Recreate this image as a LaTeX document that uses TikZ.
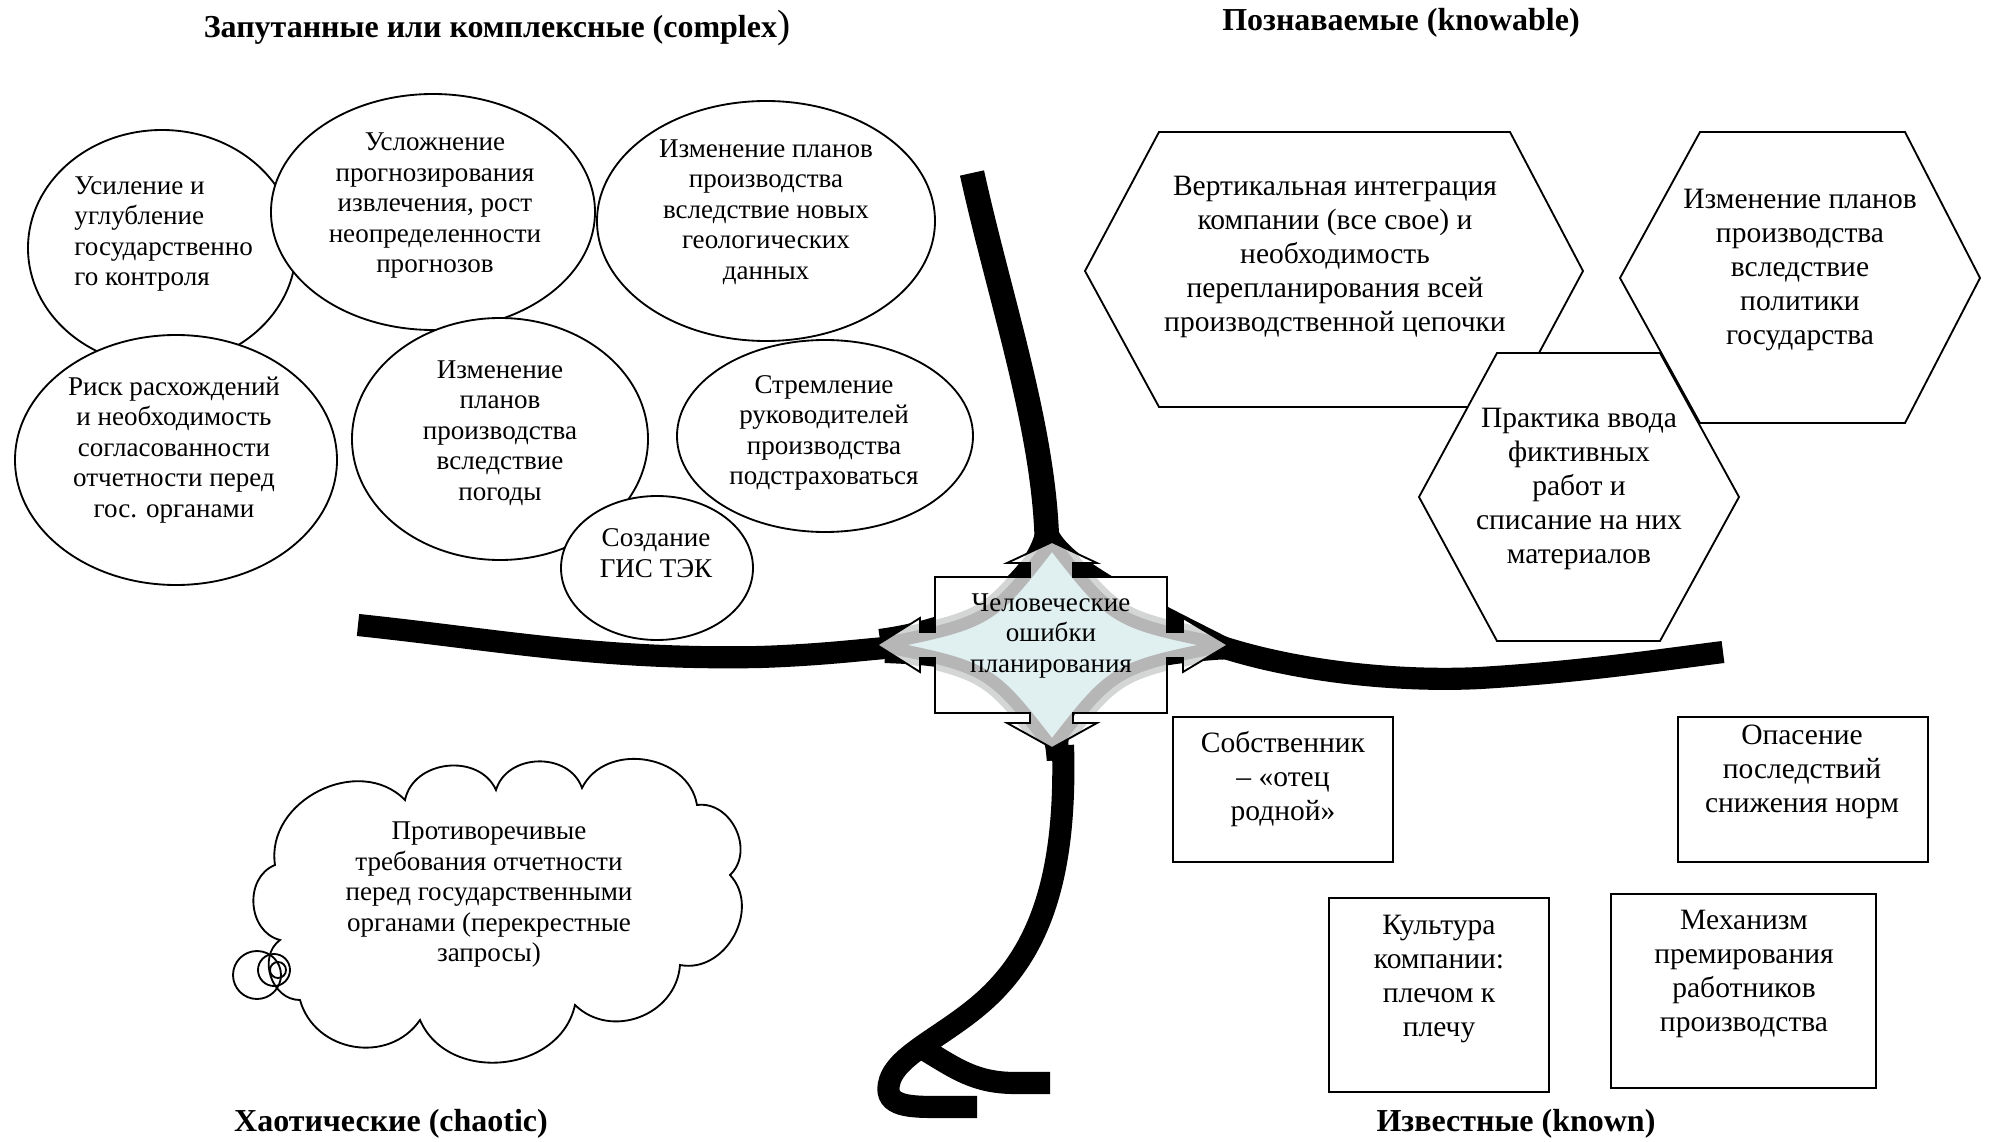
\documentclass[tikz,border=0pt]{standalone}
\usepackage{fontspec}
\setmainfont{Liberation Serif}
\usetikzlibrary{shapes.geometric}
\newcommand{\pxl}{0.4065pt}
\definecolor{starfill}{RGB}{224,239,240}
\definecolor{stargray}{RGB}{182,182,182}
\definecolor{starhalo}{RGB}{212,214,214}
% outline of the four-arrow callout in the middle
\newcommand{\calloutshape}{(935,577) -- (1030,577) -- (1030,563) -- (1007,563) -- (1052,542) -- (1097,563) -- (1073,563) -- (1073,577) -- (1167,577) -- (1167,632) -- (1183,632) -- (1183,618) -- (1228,645) -- (1183,672) -- (1183,658) -- (1167,658) -- (1167,713) -- (1073,713) -- (1073,723) -- (1097,723) -- (1052,748) -- (1007,723) -- (1030,723) -- (1030,713) -- (935,713) -- (935,658) -- (920,658) -- (920,672) -- (877,645) -- (920,618) -- (920,632) -- (935,632) -- cycle}
% concave four-pointed star inside the callout
\newcommand{\starshape}{(877,645) .. controls (990,622) .. (1052,542) .. controls (1114,622) .. (1228,645) .. controls (1114,668) .. (1052,748) .. controls (990,668) .. (877,645) -- cycle}
\begin{document}
\begin{tikzpicture}[x=0.4065pt, y=-0.4065pt,
  outl/.style={draw=black, line width=0.75pt, fill=white},
  oval/.style={outl, ellipse, inner sep=0pt},
  boxr/.style={outl, rectangle, inner sep=0pt},
  etxt/.style={align=center, font=\fontsize{11}{12.4}\selectfont, inner sep=0pt},
  htxt/.style={align=center, font=\fontsize{12}{13.8}\selectfont, inner sep=0pt},
  ttl/.style={font=\fontsize{13}{14.5}\selectfont\bfseries, inner sep=0pt},
  arm/.style={line width=9pt, black, line cap=butt},
]
\useasboundingbox (0,0) rectangle (1993,1142);

% ---- domain boundaries (thick curves) ----
\draw[arm] (358,625) .. controls (500,640) and (600,660) .. (760,657) .. controls (820,655) and (860,650) .. (885,648);
\draw[arm] (1222,647) .. controls (1300,672) and (1400,682) .. (1480,678) .. controls (1580,672) and (1660,660) .. (1723,652);
\draw[arm, line width=10pt] (972,173) .. controls (1000,300) and (1045,430) .. (1047,545);
\draw[arm] (1046,535) .. controls (1035,575) and (990,625) .. (880,640);
\draw[arm] (1048,535) .. controls (1065,570) and (1140,605) .. (1228,650);
\draw[arm] (885,652) .. controls (990,655) and (1052,680) .. (1058,760);
\draw[arm] (1228,648) .. controls (1110,655) and (1050,680) .. (1058,760);
\draw[arm] (1063,745) .. controls (1066,850) and (1050,930) .. (1000,985) .. controls (960,1030) and (900,1050) .. (890,1080) .. controls (882,1105) and (905,1107) .. (935,1107) -- (977,1107);
\draw[arm] (925,1050) .. controls (955,1068) and (975,1083) .. (1015,1083) -- (1050,1083);

% ---- central callout ----
\fill[white] \calloutshape;
\begin{scope}
  \clip \calloutshape;
  \draw[starhalo, line width=10pt] \starshape;
  \filldraw[fill=starfill, draw=stargray, line width=5pt] \starshape;
\end{scope}
\draw[line width=0.75pt] \calloutshape;
\node[etxt] (center) at (1051,636) {Человеческие\\ошибки\\планирования};

% ---- complex domain: ovals ----
\node[oval, minimum width=268*\pxl, minimum height=236*\pxl] (e1) at (162,248) {};
\node[oval, minimum width=324*\pxl, minimum height=236*\pxl] (e2) at (433,212) {};
\node[oval, minimum width=338*\pxl, minimum height=240*\pxl] (e3) at (766,221) {};
\node[oval, minimum width=322*\pxl, minimum height=250*\pxl] (e4) at (176,460) {};
\node[oval, minimum width=296*\pxl, minimum height=242*\pxl] (e5) at (500,439) {};
\node[oval, minimum width=296*\pxl, minimum height=192*\pxl] (e6) at (825,436) {};
\node[oval, minimum width=192*\pxl, minimum height=144*\pxl] (e7) at (657,568) {};

\node[etxt, align=left, anchor=west] (t1) at (74,234) {Усиление и\\углубление\\государственно\\го контроля};
\node[etxt] (t2) at (435,206) {Усложнение\\прогнозирования\\извлечения, рост\\неопределенности\\прогнозов};
\node[etxt] (t3) at (766,212) {Изменение планов\\производства\\вследствие новых\\геологических\\данных};
\node[etxt] (t4) at (174,450) {Риск расхождений\\и необходимость\\согласованности\\отчетности перед\\гос. органами};
\node[etxt] (t5) at (500,433) {Изменение\\планов\\производства\\вследствие\\погоды};
\node[etxt] (t6) at (824,433) {Стремление\\руководителей\\производства\\подстраховаться};
\node[etxt] (t7) at (656,553) {Создание\\ГИС ТЭК};

% ---- knowable domain: hexagons ----
\draw[outl] (1085,271) -- (1159,132) -- (1510,132) -- (1583,271) -- (1510,407) -- (1159,407) -- cycle;
\draw[outl] (1620,278) -- (1700,132) -- (1905,132) -- (1980,278) -- (1905,423) -- (1700,423) -- cycle;
\draw[outl] (1419,497) -- (1497,353) -- (1660,353) -- (1739,497) -- (1660,641) -- (1497,641) -- cycle;
\node[htxt] (h1) at (1335,257) {Вертикальная интеграция\\компании (все свое) и\\необходимость\\перепланирования всей\\производственной цепочки};
\node[htxt] (h2) at (1800,270) {Изменение планов\\производства\\вследствие\\политики\\государства};
\node[htxt] (h3) at (1579,489) {Практика ввода\\фиктивных\\работ и\\списание на них\\материалов};

% ---- known domain: rectangles ----
\node[boxr, minimum width=220*\pxl, minimum height=145*\pxl] (r1) at (1283,789.5) {};
\node[boxr, minimum width=250*\pxl, minimum height=145*\pxl] (r2) at (1803,789.5) {};
\node[boxr, minimum width=220*\pxl, minimum height=194*\pxl] (r3) at (1439,995) {};
\node[boxr, minimum width=265*\pxl, minimum height=194*\pxl] (r4) at (1743.5,991) {};
\node[htxt] (s1) at (1283,779) {Собственник\\– «отец\\родной»};
\node[htxt] (s2) at (1802,772) {Опасение\\последствий\\снижения норм};
\node[htxt] (s3) at (1439,979) {Культура\\компании:\\плечом к\\плечу};
\node[htxt] (s4) at (1744,974) {Механизм\\премирования\\работников\\производства};

% ---- chaotic domain: thought cloud ----
\draw[outl, looseness=1.15]
  (275,865) to[bend left=72] (405,800) to[bend left=72] (496,790)
  to[bend left=72] (582,788) to[bend left=72] (697,805)
  to[bend left=72] (730,875) to[bend left=72] (680,965)
  to[bend left=65] (575,1005) to[bend left=72] (420,1020)
  to[bend left=65] (300,1000) to[bend left=72] (280,940)
  to[bend left=72] (275,865) -- cycle;
\node[draw, line width=0.75pt, circle, minimum size=48*\pxl, inner sep=0pt] (tail1) at (257,975) {};
\node[draw, line width=0.75pt, circle, minimum size=32*\pxl, inner sep=0pt] (tail2) at (274,970) {};
\node[draw, line width=0.75pt, circle, minimum size=16*\pxl, inner sep=0pt] (tail3) at (278,970) {};
\node[etxt] (c1) at (489,895) {Противоречивые\\требования отчетности\\перед государственными\\органами (перекрестные\\запросы)};

% ---- domain titles ----
\node[ttl] (q1) at (497,28) {Запутанные или комплексные (complex{\mdseries\fontsize{16}{16}\selectfont )}};
\node[ttl] (q2) at (1401,23) {Познаваемые (knowable)};
\node[ttl] (q3) at (391,1124) {Хаотические (chaotic)};
\node[ttl] (q4) at (1516,1124) {Известные (known)};
\end{tikzpicture}
\end{document}
